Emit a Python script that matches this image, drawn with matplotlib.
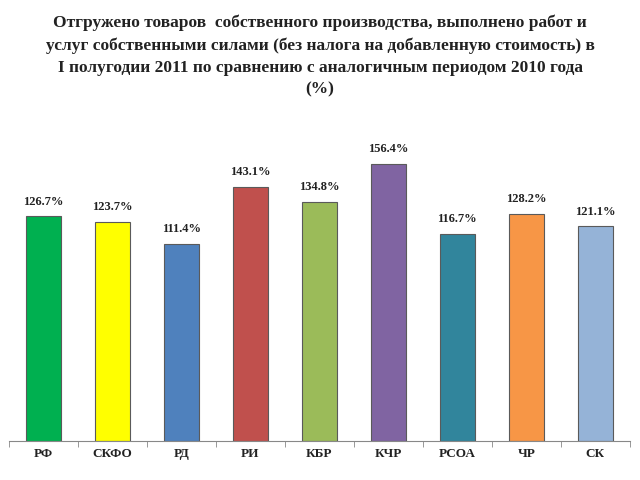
import matplotlib
matplotlib.use('Agg')
import matplotlib.pyplot as plt
import numpy as np

regions = ['РФ', 'СКФО', 'РД', 'РИ', 'КБР', 'КЧР', 'РСОА', 'ЧР', 'СК']
values = [126.7, 123.7, 111.4, 143.1, 134.8, 156.4, 116.7, 128.2, 121.1]
colors = ['#00B050', '#FFFF00', '#4F81BD', '#C0504D', '#9BBB59',
          '#8064A2', '#31859C', '#F79646', '#95B3D7']

title = ('Отгружено товаров  собственного производства, выполнено работ и\n'
         'услуг собственными силами (без налога на добавленную стоимость) в\n'
         'I полугодии 2011 по сравнению с аналогичным периодом 2010 года\n'
         '(%)')

plt.rcParams['font.family'] = ['Liberation Serif', 'DejaVu Serif']

fig = plt.figure(figsize=(6.4, 4.8), dpi=100)
ax = fig.add_axes([0.014, 0.081, 0.97, 0.665])

x = np.arange(len(regions))
ax.bar(x, values, width=0.5, color=colors, edgecolor='#5a5a5a', linewidth=0.8)

for xi, v in zip(x, values):
    ax.text(xi, v + 5, f'{v:.1f}%', ha='center', va='bottom',
            fontsize=9, fontweight='bold', color='#222222')

ax.set_xlim(-0.5, len(regions) - 0.5)
ax.set_ylim(0, 180)
ax.set_xticks(x)
ax.set_xticklabels(regions, fontsize=9.5, fontweight='bold', color='#222222')
ax.tick_params(axis='x', which='major', length=0, pad=5)
ax.set_xticks(np.arange(-0.5, len(regions)), minor=True)
ax.tick_params(axis='x', which='minor', length=4, direction='out', color='#888888')
ax.set_yticks([])
for s in ['top', 'right', 'left']:
    ax.spines[s].set_visible(False)
ax.spines['bottom'].set_color('#888888')

fig.text(0.5, 0.97, title, ha='center', va='top', fontsize=12.5,
         fontweight='bold', linespacing=1.5, color='#222222')

fig.savefig('out.png', dpi=100)
